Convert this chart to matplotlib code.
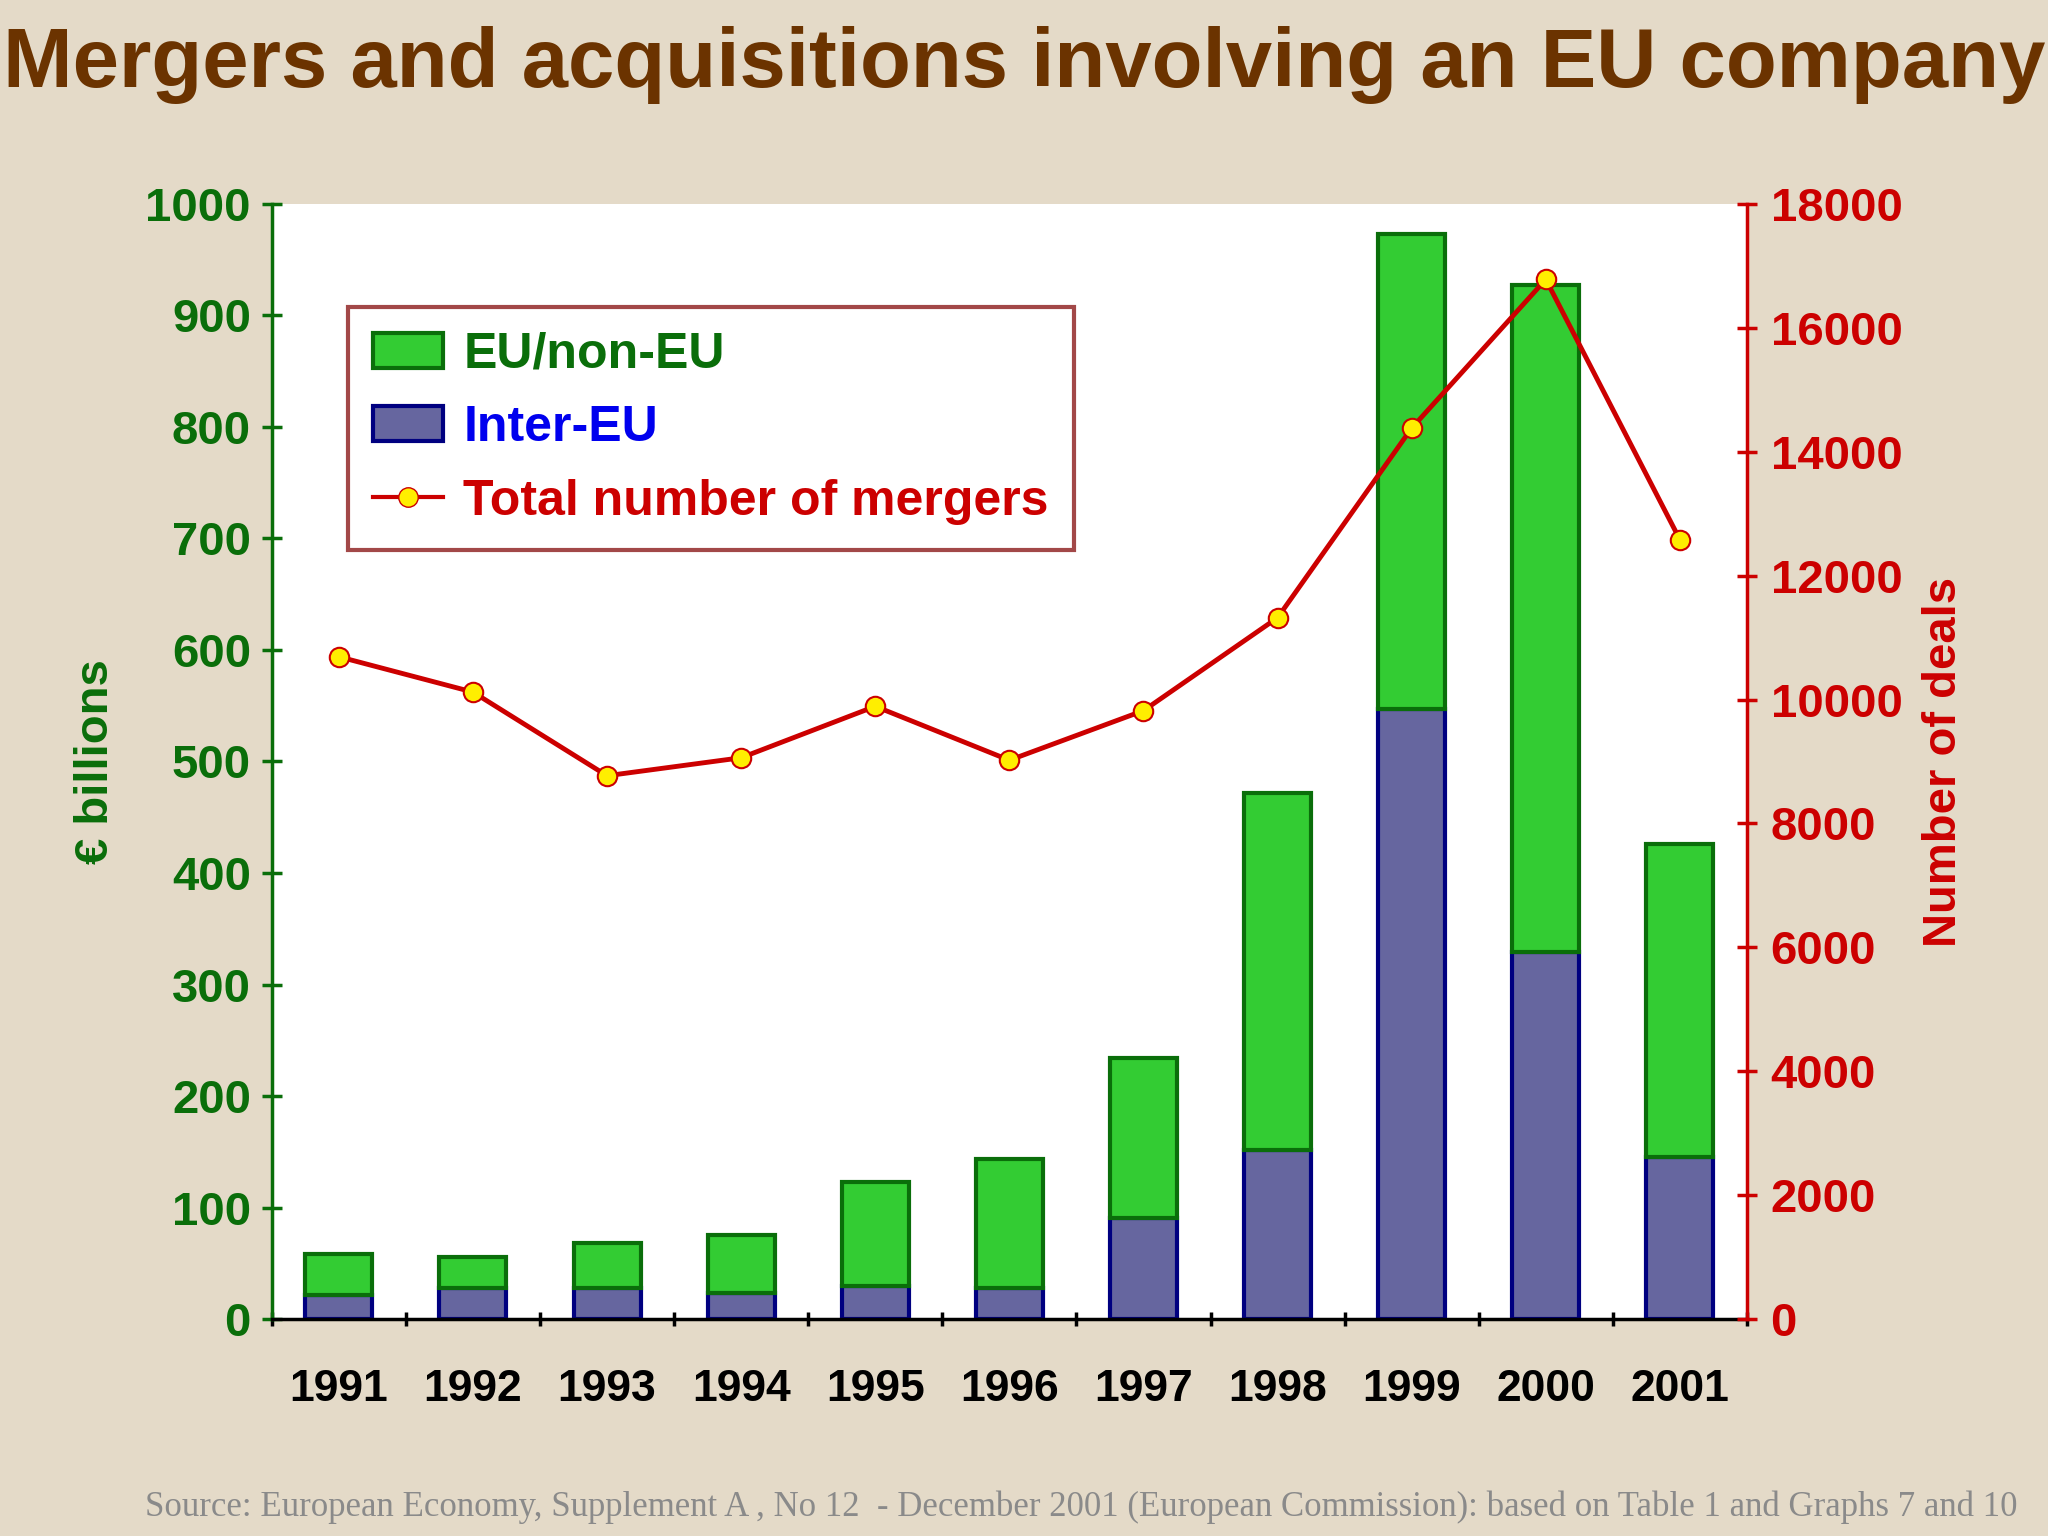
import matplotlib.pyplot as plt
from matplotlib.lines import Line2D
from matplotlib.patches import Patch

plt.rcParams['font.family'] = ['Liberation Sans', 'DejaVu Sans']

years = ['1991', '1992', '1993', '1994', '1995', '1996', '1997', '1998', '1999', '2000', '2001']
total_value = [58, 56, 68, 75, 123, 144, 234, 472, 973, 927, 426]
inter_eu = [22, 28, 28, 23, 30, 28, 91, 152, 547, 329, 145]
deals = [10690, 10120, 8770, 9060, 9890, 9020, 9820, 11320, 14380, 16780, 12580]

non_eu = [t - i for t, i in zip(total_value, inter_eu)]

BG = '#e4dac8'
GREEN = '#33cc33'
DKGREEN = '#0a6e0a'
PURPLE = '#66669f'
NAVY = '#000080'
RED = '#cc0000'
BROWN = '#6b3300'

fig = plt.figure(figsize=(20.48, 15.36), dpi=100, facecolor=BG)
ax = fig.add_axes([0.1327, 0.1412, 0.7203, 0.7261])
ax.set_facecolor('white')

x = range(len(years))
ax.bar(x, inter_eu, width=0.5, color=PURPLE, edgecolor=NAVY, linewidth=3)
ax.bar(x, non_eu, width=0.5, bottom=inter_eu, color=GREEN, edgecolor=DKGREEN, linewidth=3)
ax.set_xlim(-0.5, len(years) - 0.5)
ax.set_ylim(0, 1000)
ax.set_yticks(range(0, 1001, 100))
ax.set_xticks([i + 0.5 for i in range(-1, len(years))])
ax.set_xticklabels([])
ax.tick_params(axis='x', length=10, width=2.5, direction='inout')
for i, y in enumerate(years):
    ax.text(i, -45, y, ha='center', va='top', fontsize=32, fontweight='bold')
ax.tick_params(axis='y', colors=DKGREEN, labelsize=34, length=14, width=2.5, direction='inout', pad=8)
for lbl in ax.get_yticklabels():
    lbl.set_fontweight('bold')
ax.spines['top'].set_visible(False)
ax.spines['right'].set_visible(False)
ax.spines['left'].set_color(DKGREEN)
ax.spines['left'].set_linewidth(2.5)
ax.spines['bottom'].set_linewidth(2.5)
ax.set_ylabel('€ billions', color=DKGREEN, fontsize=34, fontweight='bold', labelpad=20)

ax2 = ax.twinx()
ax2.plot(x, deals, color=RED, linewidth=3.5, marker='o', markersize=14,
         markerfacecolor='#ffee00', markeredgecolor=RED, markeredgewidth=1.5)
ax2.set_ylim(0, 18000)
ax2.set_yticks(range(0, 18001, 2000))
ax2.tick_params(axis='y', colors=RED, labelsize=34, length=14, width=2.5, direction='inout', pad=10)
for lbl in ax2.get_yticklabels():
    lbl.set_fontweight('bold')
for s in ['top', 'left', 'bottom']:
    ax2.spines[s].set_visible(False)
ax2.spines['right'].set_color(RED)
ax2.spines['right'].set_linewidth(2.5)
ax2.set_ylabel('Number of deals', color=RED, fontsize=34, fontweight='bold', labelpad=14)

handles = [Patch(facecolor=GREEN, edgecolor=DKGREEN, linewidth=3),
           Patch(facecolor=PURPLE, edgecolor=NAVY, linewidth=3),
           Line2D([], [], color=RED, linewidth=3, marker='o', markersize=14,
                  markerfacecolor='#ffee00', markeredgecolor=RED)]
leg = ax2.legend(handles, ['EU/non-EU', 'Inter-EU', 'Total number of mergers'],
                 loc='upper left', bbox_to_anchor=(0.035, 0.93), fontsize=36,
                 frameon=True, fancybox=False, edgecolor='#8b1a1a', borderpad=0.5,
                 handlelength=1.4, handletextpad=0.4, labelspacing=0.55)
leg.get_frame().set_linewidth(3)
for t, c in zip(leg.get_texts(), [DKGREEN, '#0000ee', RED]):
    t.set_color(c)
    t.set_fontweight('bold')

fig.text(0.5, 0.958, 'Mergers and acquisitions involving an EU company', ha='center', va='center',
         fontsize=60, fontweight='bold', color=BROWN)
fig.text(0.985, 0.008, 'Source: European Economy, Supplement A , No 12  - December 2001 (European Commission): '
         'based on Table 1 and Graphs 7 and 10', ha='right', va='bottom', fontsize=25,
         family='Liberation Serif', color='#8a8a8a')

fig.savefig('out.png', dpi=100, facecolor=BG)
